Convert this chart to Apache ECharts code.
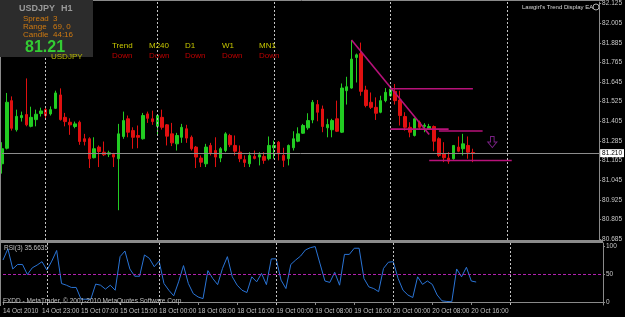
<!DOCTYPE html>
<html><head><meta charset="utf-8">
<script src="https://cdn.jsdelivr.net/npm/echarts@6/dist/echarts.min.js"></script>
<style>html,body{margin:0;padding:0;background:#000;}#c{width:625px;height:317px;}</style>
</head><body><div id="c"></div>
<script>
// Hourly sessions visible on the chart: [day, first hour, last hour]
const sessions = [['14 Oct',15,23],['15 Oct',0,22],['18 Oct',0,23],['19 Oct',0,23],['20 Oct',0,17]];
const futureSessions = [['20 Oct',18,23],['21 Oct',0,19]];

const open = [81.145,81.240,81.531,81.353,81.427,81.446,81.374,81.415,81.452,81.476,
81.450,81.484,81.566,81.429,81.399,81.373,81.399,81.298,81.298,81.182,
81.247,81.216,81.204,81.202,81.176,81.312,81.420,81.348,81.318,81.298,
81.450,81.420,81.374,81.429,81.383,81.328,81.267,81.307,81.359,81.307,
81.247,81.180,81.145,81.257,81.226,81.180,81.226,81.318,81.257,81.216,
81.170,81.145,81.190,81.186,81.190,81.176,81.243,81.277,81.196,81.176,
81.243,81.283,81.332,81.365,81.413,81.507,81.480,81.365,81.353,81.420,
81.338,81.592,81.608,81.795,81.819,81.596,81.521,81.490,81.460,81.531,
81.561,81.588,81.535,81.434,81.368,81.318,81.399,81.374,81.359,81.373,
81.298,81.206,81.180,81.176,81.247,81.237,81.257,81.214];
const high = [81.277,81.578,81.557,81.476,81.464,81.667,81.494,81.476,81.488,81.493,
81.496,81.592,81.606,81.456,81.423,81.403,81.409,81.328,81.307,81.307,
81.257,81.281,81.225,81.212,81.389,81.464,81.440,81.368,81.379,81.456,
81.464,81.470,81.444,81.476,81.388,81.395,81.334,81.389,81.383,81.318,
81.254,81.196,81.267,81.273,81.307,81.247,81.338,81.328,81.318,81.257,
81.196,81.216,81.226,81.216,81.216,81.312,81.287,81.284,81.243,81.263,
81.344,81.368,81.389,81.454,81.535,81.535,81.501,81.420,81.420,81.531,
81.636,81.677,81.902,81.819,81.886,81.622,81.581,81.551,81.561,81.608,
81.622,81.633,81.592,81.460,81.399,81.426,81.409,81.393,81.389,81.379,
81.307,81.277,81.216,81.260,81.312,81.328,81.312,81.237];
const low = [81.085,81.233,81.348,81.342,81.403,81.374,81.368,81.374,81.434,81.420,
81.440,81.480,81.409,81.374,81.322,81.362,81.261,81.257,81.119,81.178,
81.125,81.192,81.186,81.125,80.861,81.298,81.307,81.237,81.240,81.293,
81.395,81.383,81.322,81.354,81.257,81.253,81.226,81.273,81.273,81.226,
81.119,81.125,81.125,81.196,81.125,81.155,81.216,81.247,81.196,81.155,
81.125,81.125,81.172,81.135,81.145,81.166,81.176,81.166,81.125,81.135,
81.226,81.277,81.328,81.353,81.393,81.405,81.338,81.307,81.307,81.339,
81.333,81.507,81.604,81.642,81.561,81.490,81.480,81.413,81.454,81.521,
81.555,81.507,81.379,81.348,81.307,81.312,81.353,81.338,81.353,81.222,
81.186,81.155,81.145,81.170,81.216,81.196,81.176,81.155];
const close = [81.237,81.521,81.362,81.435,81.440,81.383,81.429,81.448,81.468,81.440,
81.476,81.578,81.415,81.403,81.383,81.389,81.281,81.281,81.176,81.237,
81.220,81.200,81.212,81.186,81.328,81.409,81.338,81.307,81.307,81.440,
81.423,81.403,81.440,81.368,81.314,81.273,81.318,81.368,81.302,81.237,
81.186,81.155,81.247,81.212,81.186,81.237,81.328,81.261,81.222,81.176,
81.153,81.196,81.178,81.200,81.166,81.257,81.257,81.206,81.166,81.257,
81.298,81.328,81.379,81.409,81.521,81.460,81.373,81.385,81.409,81.344,
81.608,81.616,81.785,81.811,81.588,81.501,81.490,81.454,81.531,81.582,
81.602,81.531,81.440,81.368,81.338,81.420,81.368,81.381,81.373,81.283,
81.196,81.182,81.161,81.257,81.222,81.267,81.216,81.210];
const rsi = [75,95,59,67,67,49,61,66,72,57,
73,92,33,30,26,26,5,5,5,32,
30,23,30,21,81,91,59,46,46,84,
78,63,73,33,21,11,36,65,33,15,
9,6,56,42,31,60,81,45,30,21,
17,45,36,51,31,77,77,39,24,67,
75,82,93,97,99,68,37.5,35,53,30,
85,85,96,96,42,27,24,18.5,60,71,
72,42,21,12.5,8,45,31.5,37.5,31.5,12.5,
2,1,0.5,59,45,62,37.5,35.66];

const priceTicks = [82.125,82.005,81.885,81.765,81.645,81.525,81.405,81.285,81.165,81.045,80.925,80.805,80.685];
const rsiTicks = [0,50,100];
const dayStarts = [9,32,56,80,104];
const bid = 81.210;
const trendLines = [
  [[72,81.902],[88,81.324]],
  [[80,81.604],[97,81.604]],
  [[80,81.357],[92,81.357]],
  [[90,81.345],[99,81.345]],
  [[88,81.165],[105,81.165]]
];
const arrowMarks = [[101,81.278]];
const signalHeads = ['Trend','M240','D1','W1','MN1'];
const signalVals = ['Down','Down','Down','Down','Down'];

const cats = [];
function pad(h){return (h<10?'0':'')+h+':00';}
sessions.concat(futureSessions).forEach(s=>{for(let h=s[1];h<=s[2];h++)cats.push(s[0]+' '+pad(h));});
const nBars = open.length;

const FONT = '"Liberation Sans", Arial, sans-serif';
const bull = '#22cc22', bear = '#e01010';
const candles = open.map((o,i)=>[o, close[i], low[i], high[i]]);
const dayLineData = dayStarts.map(d=>({xAxis: cats[d]}));
const dayLineStyle = {color:'#c4c4c4', type:[2,2], width:1};

const chart = echarts.init(document.getElementById('c'), null, {renderer:'canvas'});
const graphics = [
  {type:'rect', z:50, shape:{x:0,y:240,width:603,height:3}, style:{fill:'#8a8a8a'}},
  {type:'line', z:50, shape:{x1:0.5,y1:0,x2:0.5,y2:306}, style:{stroke:'#8a8a8a',lineWidth:1}},
  {type:'line', z:50, shape:{x1:0,y1:0.5,x2:603,y2:0.5}, style:{stroke:'#8a8a8a',lineWidth:1}},
  {type:'rect', z:60, shape:{x:0,y:0,width:93,height:57}, style:{fill:'#2c2c2c'}},
  {type:'text', z:70, x:19, y:9, style:{text:'USDJPY', fill:'#9a9a9a', font:'bold 9px '+FONT, verticalAlign:'middle'}},
  {type:'text', z:70, x:61, y:9, style:{text:'H1', fill:'#9a9a9a', font:'bold 9px '+FONT, verticalAlign:'middle'}},
  {type:'text', z:70, x:23, y:19, style:{text:'Spread', fill:'#d07a10', font:'8px '+FONT, verticalAlign:'middle'}},
  {type:'text', z:70, x:53, y:19, style:{text:'3', fill:'#d07a10', font:'8px '+FONT, verticalAlign:'middle'}},
  {type:'text', z:70, x:23, y:27, style:{text:'Range', fill:'#d07a10', font:'8px '+FONT, verticalAlign:'middle'}},
  {type:'text', z:70, x:53, y:27, style:{text:'69, 0', fill:'#d07a10', font:'8px '+FONT, verticalAlign:'middle'}},
  {type:'text', z:70, x:23, y:35, style:{text:'Candle', fill:'#d07a10', font:'8px '+FONT, verticalAlign:'middle'}},
  {type:'text', z:70, x:53, y:35, style:{text:'44:16', fill:'#d07a10', font:'8px '+FONT, verticalAlign:'middle'}},
  {type:'text', z:70, x:25, y:48, style:{text:'81.21', fill:'#33cc33', font:'bold 16px '+FONT, verticalAlign:'middle'}},
  {type:'text', z:70, x:51, y:57, style:{text:'USDJPY', fill:'#b8b800', font:'8px '+FONT, verticalAlign:'middle'}},
  {type:'text', z:70, x:522, y:7, style:{text:"Lawgirl's Trend Display EA", fill:'#d8d8d8', font:'6px '+FONT, verticalAlign:'middle'}},
  {type:'circle', z:70, shape:{cx:596,cy:7,r:3}, style:{fill:'none', stroke:'#b0b0b0', lineWidth:1}},
  {type:'text', z:70, x:4, y:248, style:{text:'RSI(3) 35.6635', fill:'#c0c0c0', font:'6.5px '+FONT, verticalAlign:'middle'}},
  {type:'text', z:70, x:3, y:301, style:{text:'FXDD - MetaTrader, \u00a9 2001-2010 MetaQuotes Software Corp.', fill:'#c0c0c0', font:'6.5px '+FONT, verticalAlign:'middle'}}
];
const headX = [112,149,185,222,259];
signalHeads.forEach((t,i)=>{
  graphics.push({type:'text', z:70, x:headX[i], y:46, style:{text:t, fill:'#c8c800', font:'8px '+FONT, verticalAlign:'middle'}});
  graphics.push({type:'text', z:70, x:headX[i], y:56, style:{text:signalVals[i], fill:'#c00000', font:'8px '+FONT, verticalAlign:'middle'}});
});

const series = [
  {type:'candlestick', xAxisIndex:0, yAxisIndex:0, data:candles, barWidth:3,
   itemStyle:{color:bull, color0:bear, borderColor:bull, borderColor0:bear, borderWidth:1},
   markLine:{silent:true, symbol:['none','none'], animation:false,
     data:[{yAxis:bid, lineStyle:{color:'#8c8c8c', type:'solid', width:1},
            label:{show:true, position:'end', formatter:bid.toFixed(3), color:'#000', backgroundColor:'#fff',
                   fontSize:6.5, fontFamily:FONT, padding:[1,2,0,2], distance:1}}]
       .concat(dayLineData.map(d=>Object.assign({}, d, {lineStyle:dayLineStyle, label:{show:false}})))
   }, z:3}
];
trendLines.forEach(tl=>{
  series.push({type:'line', xAxisIndex:0, yAxisIndex:0, data:tl, symbol:'none', silent:true,
    lineStyle:{color:'#b8127a', width:1.6}, z:4});
});
series.push({type:'scatter', xAxisIndex:0, yAxisIndex:0, data:arrowMarks, silent:true,
  symbol:'path://M3,0 L7,0 L7,6 L10,6 L5,12 L0,6 L3,6 Z', symbolSize:[9,11],
  itemStyle:{color:'rgba(0,0,0,0)', borderColor:'#9a2aa8', borderWidth:1}, z:5});
series.push({type:'line', xAxisIndex:1, yAxisIndex:1, data:rsi, symbol:'none', silent:true,
  lineStyle:{color:'#2a74d6', width:1}, z:4,
  markLine:{silent:true, symbol:['none','none'], animation:false, label:{show:false},
    data:[{yAxis:50, lineStyle:{color:'#b020b0', type:[3,2], width:1}}]
      .concat(dayLineData.map(d=>Object.assign({}, d, {lineStyle:dayLineStyle})))}});

const axisGray = '#8a8a8a';
chart.setOption({
  backgroundColor:'#000',
  animation:false,
  grid:[{left:2, right:22, top:1, height:239},{left:2, right:22, top:243, height:62}],
  xAxis:[
    {type:'category', gridIndex:0, data:cats, boundaryGap:false, axisLine:{show:false}, axisTick:{show:false}, axisLabel:{show:false}, splitLine:{show:false}},
    {type:'category', gridIndex:1, data:cats, boundaryGap:false,
     axisLine:{show:true, lineStyle:{color:axisGray}},
     axisTick:{show:true, length:3, lineStyle:{color:axisGray}, interval:(i)=> i%8===0 && i<nBars},
     axisLabel:{show:true, color:'#c0c0c0', fontSize:6.5, fontFamily:FONT, align:'left', margin:3,
       interval:(i)=> i%8===0 && i<nBars,
       formatter:(v,i)=> i===0 ? '14 Oct 2010' : v},
     splitLine:{show:false}}
  ],
  yAxis:[
    {type:'value', gridIndex:0, position:'right', min:80.679, max:82.134, scale:true,
     axisLine:{show:true, lineStyle:{color:axisGray}},
     axisTick:{show:true, length:2, lineStyle:{color:axisGray}, customValues:priceTicks},
     axisLabel:{show:true, color:'#c8c8c8', fontSize:6.5, fontFamily:FONT, margin:3, customValues:priceTicks, formatter:(v)=>v.toFixed(3)},
     splitLine:{show:false}},
    {type:'value', gridIndex:1, position:'right', min:-5.36, max:105.36,
     axisLine:{show:true, lineStyle:{color:axisGray}},
     axisTick:{show:true, length:2, lineStyle:{color:axisGray}, customValues:rsiTicks},
     axisLabel:{show:true, color:'#c8c8c8', fontSize:6.5, fontFamily:FONT, margin:3, customValues:rsiTicks},
     splitLine:{show:false}}
  ],
  graphic:graphics,
  series:series
});
</script></body></html>
